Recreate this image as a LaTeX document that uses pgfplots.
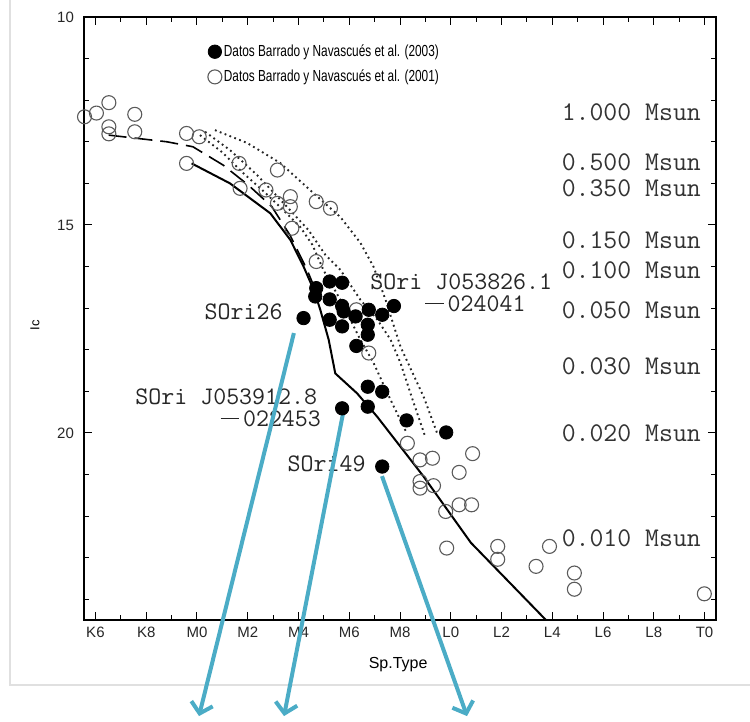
\documentclass[border=0pt]{standalone}
\usepackage{fontspec}
\setmainfont{Liberation Sans}
\usepackage{graphicx}
\usepackage{pgfplots}
\pgfplotsset{compat=1.18}
\usetikzlibrary{arrows.meta}
\definecolor{arrowblue}{RGB}{75,172,198}
\definecolor{circgray}{RGB}{90,90,90}
\newcommand{\lab}{\ttfamily\fontsize{12.6}{13}\selectfont}
\newcommand{\mass}{\ttfamily\fontsize{13.5}{14}\selectfont}
\newcommand{\mn}{\makebox[1.05em][c]{\rule[0.3em]{0.72em}{0.06em}}}
\begin{document}
\begin{tikzpicture}[x=1pt,y=1pt]
\path[use as bounding box] (-42,-51) rectangle (333,310);
\draw[black!12, line width=0.6pt] (-37,310) -- (-37,-32.5) -- (333,-32.5);
\begin{axis}[
  at={(0pt,0pt)}, anchor=south west,
  scale only axis, width=316pt, height=301.5pt,
  xmin=-4.45, xmax=20.45, ymin=10, ymax=24.5, y dir=reverse,
  clip=false,
  xtick={-4,-2,...,20},
  xticklabels={K6,K8,M0,M2,M4,M6,M8,L0,L2,L4,L6,L8,T0},
  minor xtick={-3,-1,...,19},
  ytick={10,15,20},
  minor ytick={11,12,13,14,16,17,18,19,21,22,23,24},
  tick align=inside, major tick length=4pt, minor tick length=2.5pt,
  tick style={black, line width=0.5pt},
  axis line style={line width=0.6pt},
  ticklabel style={font=\fontsize{7.5}{8}\selectfont, text=black!85},
  yticklabel style={xshift=-1.5pt},
  /pgf/number format/assume math mode=true,
  xlabel={Sp.Type}, ylabel={Ic},
  xlabel style={at={(axis description cs:0.497,-0.0746)}, anchor=center, font=\fontsize{8}{9}\selectfont},
  ylabel style={at={(axis description cs:-0.0775,0.489)}, anchor=center, rotate=0, font=\fontsize{6.5}{7}\selectfont},
  legend image code/.code={\draw[mark repeat=1,mark phase=1,#1] plot coordinates {(0cm,0cm)};},
  legend style={at={(axis description cs:0.196,0.958)}, anchor=north west, draw=none, fill=none,
    inner sep=0pt, outer sep=0pt, row sep=3.2pt,
    nodes={inner sep=1pt},
    font=\fontsize{8}{9}\selectfont},
  legend cell align=left,
  reverse legend,
]
% solid model line
\addplot[black, line width=1pt, forget plot] coordinates {
 (-0.21,13.52) (1.30,14.00) (2.89,14.72) (3.68,15.36) (4.20,16.00) (4.60,16.56)
 (4.86,17.04) (5.19,17.76) (5.45,18.57) (6.31,19.05) (7.10,19.61) (8.93,21.05)
 (10.79,22.64) (13.75,24.50)};
% long dashed line
\addplot[black, line width=0.8pt, dash pattern=on 9pt off 4pt, forget plot] coordinates {
 (-3.48,12.84) (-1.19,13.00) (-0.16,13.12) (1.03,13.56) (2.02,14.04) (2.95,14.56)
 (3.68,15.26) (4.34,16.08) (4.70,16.61)};
% dotted lines
\addplot[black!85, line width=0.95pt, dash pattern=on 0.9pt off 1.7pt, forget plot] coordinates {
 (0.71,12.72) (1.98,13.03) (3.28,13.51) (4.58,14.23) (5.65,14.81) (6.44,15.43)
 (6.96,16.01) (7.43,16.80) (8.02,17.93) (8.93,19.13) (9.49,20.05)};
\addplot[black!85, line width=0.95pt, dash pattern=on 0.9pt off 1.7pt, forget plot] coordinates {
 (0.32,12.76) (1.30,13.20) (2.37,13.80) (3.48,14.52) (4.39,15.12) (5.06,15.72)
 (5.65,16.08) (6.44,16.80) (7.11,17.28) (7.63,17.76) (8.02,18.32) (8.50,19.21) (8.97,20.05)};
\addplot[black!85, line width=0.95pt, dash pattern=on 0.9pt off 1.7pt, forget plot] coordinates {
 (0.12,12.84) (0.99,13.25) (1.78,13.73) (2.57,14.16) (3.28,14.57) (4.07,15.05)
 (4.55,15.48) (4.98,16.08) (5.65,16.80) (6.44,17.76) (6.96,18.32) (7.63,19.21) (8.26,20.00)};
% open circles (2001)
\addplot[only marks, mark=o, mark size=3.5pt, mark options={draw=circgray, line width=0.55pt, fill=none}] coordinates {
 (-4.43,12.40) (-3.96,12.31) (-3.47,12.06) (-3.47,12.64) (-3.47,12.81) (-2.45,12.34) (-2.45,12.76)
 (-0.41,12.80) (-0.41,13.52) (0.09,12.88) (1.66,13.52) (1.70,14.12) (3.17,13.68) (2.72,14.16)
 (3.17,14.48) (3.68,14.32) (3.68,14.56) (3.74,15.08) (4.70,14.44) (5.26,14.60) (4.70,15.88)
 (6.77,18.08) (6.28,17.04) (8.29,20.25) (8.79,20.65) (9.28,20.61) (10.86,20.50) (10.33,20.95)
 (8.79,21.17) (8.79,21.33) (9.32,21.27) (9.80,21.89) (10.33,21.73) (10.82,21.73) (9.84,22.77)
 (11.85,22.73) (11.85,23.04) (13.36,23.21) (13.89,22.73) (14.87,23.37) (14.87,23.76) (19.99,23.87)};
\addlegendentry{\scalebox{0.74}[1]{Datos Barrado y Navascués et al. (2001)}}
% filled circles (2003)
\addplot[only marks, mark=*, mark size=3.35pt, mark options={draw=black, fill=black}] coordinates {
 (5.23,16.36) (5.72,16.39) (4.70,16.52) (4.66,16.72) (5.23,16.79) (5.72,16.95) (5.78,17.08)
 (6.25,17.20) (6.77,17.04) (7.30,17.16) (7.76,16.95) (5.23,17.28) (5.72,17.44) (6.73,17.40)
 (6.73,17.64) (6.28,17.91) (4.20,17.24) (6.73,18.89) (7.30,19.01) (5.72,19.41) (6.73,19.37)
 (8.26,19.70) (9.82,19.99) (7.30,20.81)};
\addlegendentry{\scalebox{0.74}[1]{Datos Barrado y Navascués et al. (2003)}}
% mass labels
\node[font=\mass, anchor=east, text=black!80] at (axis cs:20.13,12.28) {1.000 Msun};
\node[font=\mass, anchor=east, text=black!80] at (axis cs:20.13,13.50) {0.500 Msun};
\node[font=\mass, anchor=east, text=black!80] at (axis cs:20.13,14.11) {0.350 Msun};
\node[font=\mass, anchor=east, text=black!80] at (axis cs:20.13,15.36) {0.150 Msun};
\node[font=\mass, anchor=east, text=black!80] at (axis cs:20.13,16.08) {0.100 Msun};
\node[font=\mass, anchor=east, text=black!80] at (axis cs:20.13,17.04) {0.050 Msun};
\node[font=\mass, anchor=east, text=black!80] at (axis cs:20.13,18.39) {0.030 Msun};
\node[font=\mass, anchor=east, text=black!80] at (axis cs:20.13,20.00) {0.020 Msun};
\node[font=\mass, anchor=east, text=black!80] at (axis cs:20.13,22.53) {0.010 Msun};
% object labels
\node[font=\lab, anchor=west, inner sep=0pt, text=black!85] at (axis cs:6.82,16.36) {SOri J053826.1};
\node[font=\lab, anchor=west, inner sep=0pt, text=black!85] at (axis cs:8.82,16.90) {\mn024041};
\node[font=\lab, anchor=east, inner sep=0pt, text=black!85] at (axis cs:3.39,17.09) {SOri26};
\node[font=\lab, anchor=west, inner sep=0pt, text=black!85] at (axis cs:-2.44,19.13) {SOri J053912.8};
\node[font=\lab, anchor=east, inner sep=0pt, text=black!85] at (axis cs:4.90,19.67) {\mn022453};
\node[font=\lab, anchor=east, inner sep=0pt, text=black!85] at (axis cs:6.66,20.75) {SOri49};
% arrows
\draw[arrowblue, line width=2pt, -{Straight Barb[length=5pt,width=11pt]}] (axis cs:3.82,17.60) -- (axis cs:0.08,26.81);
\draw[arrowblue, line width=2pt, -{Straight Barb[length=5pt,width=11pt]}] (axis cs:5.75,19.55) -- (axis cs:3.43,26.81);
\draw[arrowblue, line width=2pt, -{Straight Barb[length=5pt,width=11pt]}] (axis cs:7.29,21.04) -- (axis cs:10.64,26.81);
\end{axis}
\end{tikzpicture}
\end{document}
